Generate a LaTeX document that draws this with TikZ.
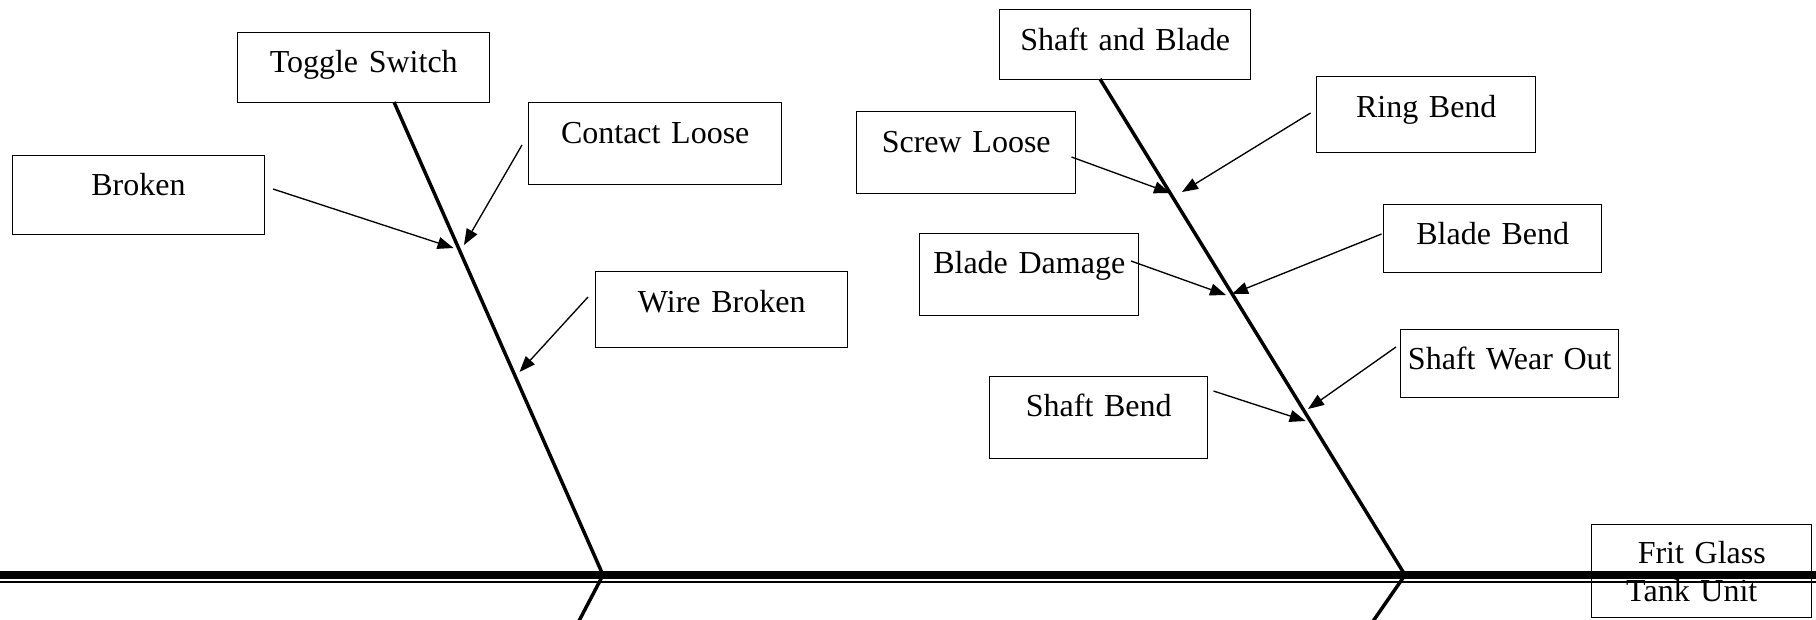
\documentclass[tikz,border=0pt]{standalone}
\usepackage{fontspec}
\setmainfont{Liberation Serif}
\usetikzlibrary{arrows.meta}
% one drawing unit
\newlength\pxu
\setlength\pxu{0.75pt}
\begin{document}
\begin{tikzpicture}[x=0.75pt,y=-0.75pt,
  every node/.style={font=\fontsize{24}{28.5}\selectfont},
  % box of given width, with its text baseline #2 below the top and #3 above the bottom
  cbox/.style n args={3}{draw, line width=1.1pt, inner sep=0pt, anchor=north west,
    text width=#1\pxu, align=center, text height=#2\pxu, text depth=#3\pxu},
  bone/.style={line width=2.6pt},
  cause/.style={line width=1pt, -{Triangle[length=12pt,width=9pt]}},
  spineline/.style={line width=6pt},
  spinethin/.style={line width=1.5pt},
]
\useasboundingbox (0,0) rectangle (1816,619);
\clip (0,0) rectangle (1816,619);

% cause boxes
\node[cbox={252}{40}{30}]   (tsw) at (237,32)   {Toggle Switch};
\node[cbox={253}{41}{41}]   (cl)  at (528,102)  {Contact Loose};
\node[cbox={252.5}{40}{39}] (brk) at (11.5,155) {Broken};
\node[cbox={252}{41}{35}]   (wb)  at (595,271)  {Wire Broken};
\node[cbox={251}{41}{29}]   (sab) at (999,9)    {Shaft and Blade};
\node[cbox={219}{41}{35}]   (rb)  at (1316,76)  {Ring Bend};
\node[cbox={219}{41}{41}]   (sl)  at (856,111)  {Screw Loose};
\node[cbox={218}{40}{28}]   (bb)  at (1383,204) {Blade Bend};
\node[cbox={219}{40}{42}]   (bd)  at (919,233)  {Blade Damage};
\node[cbox={218}{40}{28}]   (swo) at (1400,329) {Shaft Wear Out};
\node[cbox={218}{40}{42}]   (sb)  at (989,376)  {Shaft Bend};
\node[cbox={220}{39}{54}]   (fg)  at (1591,524) {Frit Glass\\\hspace*{-20\pxu}Tank Unit};

% bones
\coordinate (b1top)  at (394,102);
\coordinate (b1foot) at (603,575);
\coordinate (b1tail) at (569,640);
\coordinate (b2top)  at (1100,79);
\coordinate (b2foot) at (1405,575);
\coordinate (b2tail) at (1360,640);
\draw[bone] (b1top) -- (b1foot) -- (b1tail);
\draw[bone] (b2top) -- (b2foot) -- (b2tail);

% arrow ends
\coordinate (brkS) at (273,189);    \coordinate (brkT) at (453.5,248);
\coordinate (clS)  at (522,145);    \coordinate (clT)  at (464,245);
\coordinate (wbS)  at (588,297);    \coordinate (wbT)  at (519.5,372);
\coordinate (slS)  at (1071.5,157); \coordinate (slT)  at (1170,193);
\coordinate (rbS)  at (1310.5,113); \coordinate (rbT)  at (1182,192);
\coordinate (bdS)  at (1131,261);   \coordinate (bdT)  at (1226,295);
\coordinate (bbS)  at (1381.5,234); \coordinate (bbT)  at (1232,294);
\coordinate (sbS)  at (1213.5,391); \coordinate (sbT)  at (1305.6,421);
\coordinate (swoS) at (1396,347);   \coordinate (swoT) at (1308,409);

\draw[cause] (brkS) -- (brkT);
\draw[cause] (clS) -- (clT);
\draw[cause] (wbS) -- (wbT);
\draw[cause] (slS) -- (slT);
\draw[cause] (rbS) -- (rbT);
\draw[cause] (bdS) -- (bdT);
\draw[cause] (bbS) -- (bbT);
\draw[cause] (sbS) -- (sbT);
\draw[cause] (swoS) -- (swoT);

% main spine: heavy rule with a thin rule beneath
\coordinate (mainL) at (0,575);
\coordinate (mainR) at (1816,575);
\coordinate (thinL) at (0,582.3);
\coordinate (thinR) at (1816,582.3);
\draw[spineline] (mainL) -- (mainR);
\draw[spinethin] (thinL) -- (thinR);
\end{tikzpicture}
\end{document}
